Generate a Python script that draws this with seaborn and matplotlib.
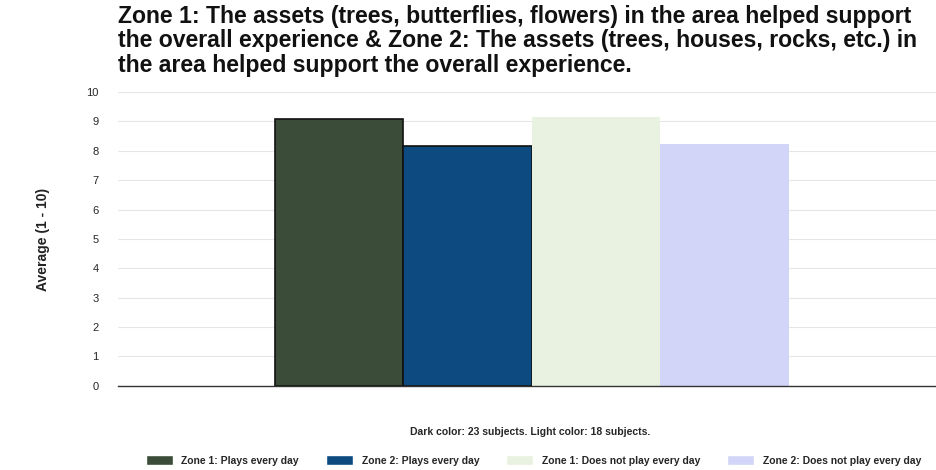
import matplotlib
matplotlib.use("Agg")
import matplotlib.pyplot as plt
import seaborn as sns
import pandas as pd

# values
series = ['Zone 1: Plays every day', 'Zone 2: Plays every day',
          'Zone 1: Does not play every day', 'Zone 2: Does not play every day']
averages = [9.1, 8.15, 9.15, 8.22]
colors = ['#3b4d38', '#0d4a80', '#e9f2e1', '#d2d5f7']
yticks = list(range(0, 11))

title = ('Zone 1: The assets (trees, butterflies, flowers) in the area helped support\n'
         'the overall experience & Zone 2: The assets (trees, houses, rocks, etc.) in\n'
         'the area helped support the overall experience.')
note = 'Dark color: 23 subjects. Light color: 18 subjects.'

df = pd.DataFrame({'series': series, 'avg': averages})

sns.set_theme(style='white')
plt.rcParams['font.family'] = ['Liberation Sans', 'DejaVu Sans']

fig = plt.figure(figsize=(9.36, 4.70), dpi=100)
ax = fig.add_axes([0.126, 0.179, 0.884, 0.625])

sns.barplot(data=df, x='series', y='avg', hue='series', palette=colors,
            saturation=1, width=1.0, dodge=False, legend=True, ax=ax)

# dark bars have a black outline, light ones none
for patch, c in zip(ax.patches, colors):
    if c in ('#3b4d38', '#0d4a80'):
        patch.set_edgecolor('#111111')
        patch.set_linewidth(1.2)
    else:
        patch.set_edgecolor('none')

ax.set_xlim(-1.72, 4.72)
ax.set_ylim(0, 10)
ax.set_yticks(yticks)
ax.set_yticklabels([str(t) for t in yticks], fontsize=8)
ax.tick_params(axis='y', length=0, pad=14)
ax.set_xticks([])
ax.set_xlabel('')
ax.set_ylabel('Average (1 - 10)', fontsize=10, fontweight='bold', labelpad=26,
              color='#222222')
ax.yaxis.grid(True, color='#e6e6e6', linewidth=0.8)
ax.set_axisbelow(True)
for s in ['top', 'right', 'left']:
    ax.spines[s].set_visible(False)
ax.spines['bottom'].set_color('#333333')
ax.spines['bottom'].set_linewidth(1.0)

fig.text(0.126, 0.99, title, ha='left', va='top', fontsize=16.6, fontweight='bold',
         linespacing=1.1, color='#111111')
fig.text(0.566, 0.081, note, ha='center', va='center', fontsize=7.5, fontweight='bold')

handles, labels = ax.get_legend_handles_labels()
ax.legend_.remove()
leg = fig.legend(handles, labels, loc='center', bbox_to_anchor=(0.57, 0.02), ncol=4,
                 frameon=False, fontsize=7.5, handlelength=2.6, handleheight=1.0,
                 columnspacing=2.6, handletextpad=0.8)
for t in leg.get_texts():
    t.set_fontweight('bold')

fig.savefig('out.png', dpi=100)
